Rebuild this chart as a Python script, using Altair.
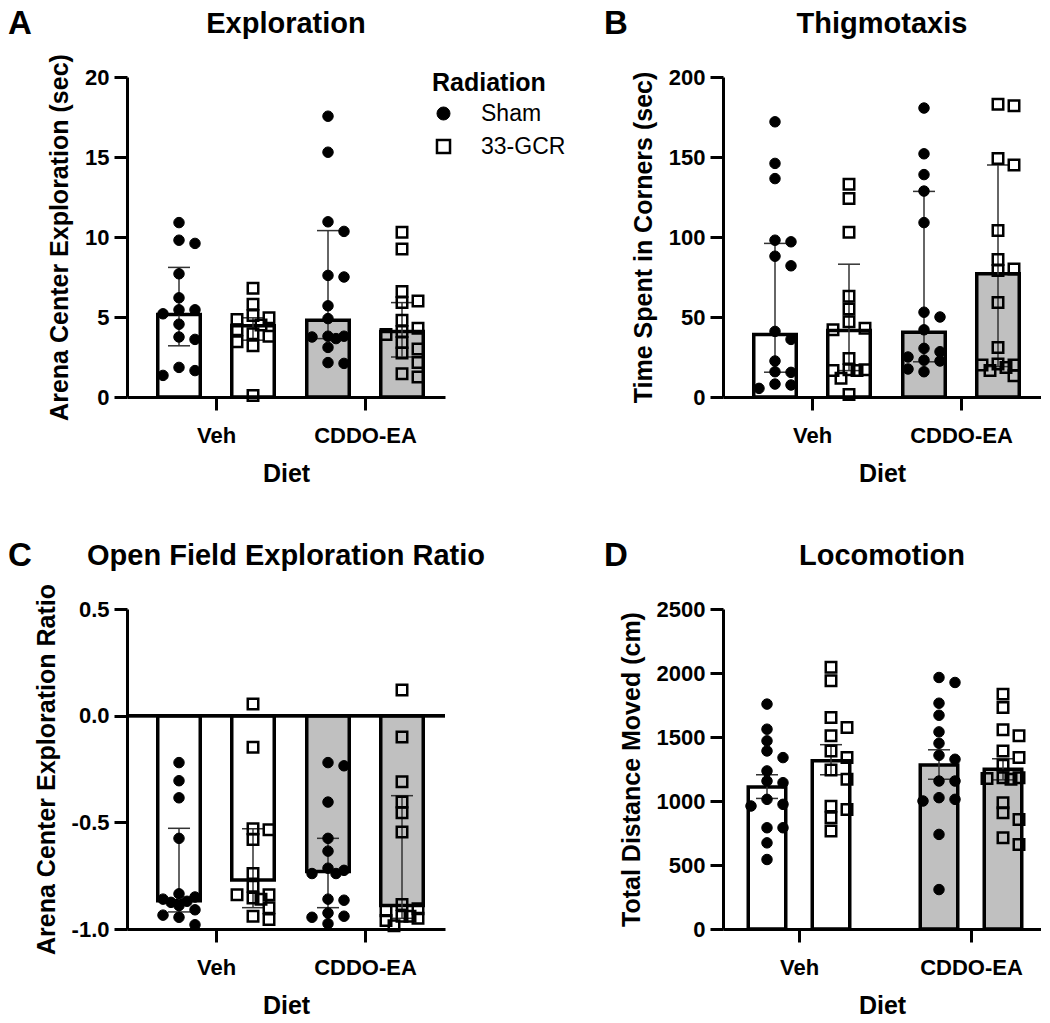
import altair as alt
import pandas as pd

DIETS = ["Veh", "CDDO-EA"]
RADS = ["Sham", "33-GCR"]
GROUPS = [("Veh", "Sham"), ("Veh", "33-GCR"), ("CDDO-EA", "Sham"), ("CDDO-EA", "33-GCR")]

# ---------- Panel A: Exploration (sec) ----------
A_VEH_SHAM = [10.9, 9.8, 9.6, 7.7, 6.2, 5.45, 5.45, 5.2, 4.55, 3.75, 3.6, 1.85, 1.65, 1.35]
A_VEH_GCR = [6.8, 5.8, 5.1, 4.95, 4.85, 4.5, 4.2, 3.95, 3.8, 3.45, 3.2, 0.1]
A_CDDO_SHAM = [17.55, 15.3, 10.95, 10.35, 7.6, 7.5, 5.7, 4.9, 3.8, 3.8, 3.75, 3.65, 3.1, 2.15, 2.1]
A_CDDO_GCR = [10.3, 9.25, 6.6, 6.0, 5.9, 4.8, 4.3, 4.1, 3.9, 3.4, 3.0, 2.75, 2.15, 1.45, 1.25]
A_BAR = [5.15, 4.45, 4.8, 4.1]
A_LO = [3.2, 3.55, 3.65, 2.5]
A_HI = [8.1, 4.95, 10.4, 5.9]

# ---------- Panel B: Thigmotaxis (sec) ----------
B_VEH_SHAM = [172, 146, 136.5, 98, 97, 88, 82, 41, 36, 22.5, 15.8, 15.4, 8.1, 7.5, 5.4]
B_VEH_GCR = [133, 124, 103, 63, 55, 47, 43, 42, 24, 17, 17, 16.5, 16.5, 11.7, 1.5]
B_CDDO_SHAM = [180.6, 152, 139, 128.7, 109, 53, 50, 42, 30.4, 28.3, 25, 23, 22.5, 17.5, 15.8]
B_CDDO_GCR = [183, 182, 149, 145, 104, 86, 80, 79, 59, 31, 20.6, 20, 20, 18.5, 16.5, 13.3]
B_BAR = [39, 41.5, 40.5, 77]
B_LO = [15.5, 16.5, 22, 19]
B_HI = [96, 83, 128.5, 145]

# ---------- Panel C: Open Field Exploration Ratio ----------
C_VEH_SHAM = [-0.22, -0.305, -0.385, -0.575, -0.835, -0.85, -0.86, -0.87, -0.875, -0.89, -0.91, -0.935, -0.945, -0.98]
C_VEH_GCR = [0.055, -0.148, -0.53, -0.535, -0.58, -0.74, -0.8, -0.84, -0.84, -0.855, -0.86, -0.9, -0.94, -0.955]
C_CDDO_SHAM = [-0.22, -0.235, -0.405, -0.575, -0.635, -0.715, -0.725, -0.74, -0.74, -0.86, -0.865, -0.925, -0.94, -0.945, -0.975]
C_CDDO_GCR = [0.12, -0.1, -0.31, -0.405, -0.455, -0.545, -0.885, -0.905, -0.915, -0.94, -0.94, -0.95, -0.96, -0.985]
C_BAR = [-0.867, -0.77, -0.73, -0.89]
C_LO = [-0.92, -0.9, -0.9, -0.95]
C_HI = [-0.528, -0.53, -0.575, -0.375]

# ---------- Panel D: Locomotion (cm) ----------
D_VEH_SHAM = [1757, 1561, 1470, 1391, 1339, 1235, 1156, 1143, 1013, 974, 961, 791, 791, 673, 543]
D_VEH_GCR = [2044, 1939, 1652, 1574, 1509, 1391, 1339, 1242, 1169, 960, 934, 869, 765]
D_CDDO_SHAM = [1965, 1926, 1764, 1670, 1540, 1451, 1357, 1326, 1156, 1156, 1026, 1013, 1000, 739, 308]
D_CDDO_GCR = [1835, 1730, 1556, 1509, 1391, 1339, 1280, 1182, 1175, 1170, 1182, 987, 908, 856, 713, 661]
D_BAR = [1110, 1315, 1282, 1248]
D_LO = [1020, 1205, 1170, 1165]
D_HI = [1205, 1440, 1400, 1330]

TITLES = ["Exploration", "Thigmotaxis", "Open Field Exploration Ratio", "Locomotion"]
LETTERS = ["A", "B", "C", "D"]
YTITLES = ["Arena Center Exploration (sec)", "Time Spent in Corners (sec)",
           "Arena Center Exploration Ratio", "Total Distance Moved (cm)"]

FONT = "Liberation Sans"
W, H = 318, 320


def swarm(values, px_per_unit, diam=10.0, col=16.0):
    """Deterministic beeswarm offsets (pixels): points at similar heights sit side by side,
    kept inside the bar width."""
    cands = [0.0, col, -col, col / 2, -col / 2]
    placed = []
    out = [0.0] * len(values)
    order = sorted(range(len(values)), key=lambda i: -values[i])
    for i in order:
        y = values[i] * px_per_unit
        best, best_d = 0.0, -1.0
        for x in cands:
            d = min([((x - px) ** 2 + (y - py) ** 2) ** 0.5 for py, px in placed] or [1e9])
            if d >= diam:
                best = x
                break
            if d > best_d:
                best, best_d = x, d
        placed.append((y, best))
        out[i] = best
    return out


def panel(idx, series, bar, lo, hi, ydom, yticks, yfmt,
          step, center0, roff_px, bar_px, legend=False, zero_rule=False):
    ppu = H / (ydom[1] - ydom[0])
    rows = []
    for (diet, rad), vals in zip(GROUPS, series):
        jit = swarm(vals, ppu)
        for v, j in zip(vals, jit):
            rows.append({"Diet": diet, "Radiation": rad, "value": v, "jit": j / step})
    pts = pd.DataFrame(rows)
    bars = pd.DataFrame({
        "Diet": [g[0] for g in GROUPS],
        "Radiation": [g[1] for g in GROUPS],
        "bar": bar, "lo": lo, "hi": hi,
    })
    roff = roff_px / step
    hw = (bar_px - 3.5) / 2 / step
    cap = 11 / step
    xlo = -center0 / step
    xhi = xlo + W / step
    slot = f"(datum.Diet == '{DIETS[0]}' ? 0 : 1) + (datum.Radiation == '{RADS[0]}' ? -{roff} : {roff})"

    xscale = alt.Scale(domain=[xlo, xhi], nice=False, zero=False)
    xaxis = alt.Axis(values=[0, 1], title="Diet",
                     labelExpr=f"datum.value == 0 ? '{DIETS[0]}' : '{DIETS[1]}'")
    yscale = alt.Scale(domain=ydom, nice=False, zero=False)
    yaxis = alt.Axis(values=yticks, title=YTITLES[idx], format=yfmt,
                     labelExpr="replace(datum.label, '\u2212', '-')")

    def X(f):
        return alt.X(f, type="quantitative", scale=xscale, axis=xaxis)

    def Y(f):
        return alt.Y(f, type="quantitative", scale=yscale, axis=yaxis)

    base_b = alt.Chart(bars).transform_calculate(xc=slot).transform_calculate(
        xl=f"datum.xc - {hw}", xr=f"datum.xc + {hw}",
        cl=f"datum.xc - {cap}", cr=f"datum.xc + {cap}")

    bar_layer = base_b.mark_bar(stroke="black", strokeWidth=3.5).encode(
        x=X("xl"), x2=alt.X2("xr"), y=Y("bar"), y2=alt.datum(0),
        color=alt.Color("Diet:N", scale=alt.Scale(domain=DIETS, range=["white", "#c0c0c0"]), legend=None),
    )
    err = base_b.mark_rule(color="#333333", strokeWidth=1.5).encode(
        x=X("xc"), y=Y("lo"), y2=alt.Y2("hi"))
    caps = base_b.transform_fold(["lo", "hi"], as_=["k", "v"]).mark_rule(
        color="#333333", strokeWidth=1.5).encode(x=X("cl"), x2=alt.X2("cr"), y=Y("v"))

    if legend:
        leg = alt.Legend(title="Radiation", orient="none", legendX=305, legendY=-6,
                         titleFont=FONT, titleFontSize=25, titleFontWeight="bold", titleColor="black",
                         labelFont=FONT, labelFontSize=23, labelColor="black", labelOffset=26,
                         rowPadding=8, titlePadding=6, padding=0, symbolSize=170)
    else:
        leg = None
    pts_layer = alt.Chart(pts).transform_calculate(
        xp=f"{slot} + datum.jit").mark_point(opacity=1, stroke="black", size=110).encode(
        x=X("xp"), y=Y("value"),
        shape=alt.Shape("Radiation:N", scale=alt.Scale(domain=RADS, range=["circle", "square"]), legend=leg),
        fill=alt.Fill("Radiation:N", scale=alt.Scale(domain=RADS, range=["black", "transparent"]), legend=leg),
        strokeWidth=alt.StrokeWidth("Radiation:N", scale=alt.Scale(domain=RADS, range=[1, 2.5]), legend=leg),
    )
    head = pd.DataFrame({"letter": [LETTERS[idx]], "title": [TITLES[idx]]})
    letter_layer = alt.Chart(head).mark_text(
        font=FONT, fontWeight="bold", fontSize=33, align="left", baseline="alphabetic", color="black"
    ).encode(text="letter:N", x=alt.value(-119), y=alt.value(-43))
    title_layer = alt.Chart(head).mark_text(
        font=FONT, fontWeight="bold", fontSize=29, align="center", baseline="alphabetic", color="black"
    ).encode(text="title:N", x=alt.value(W / 2), y=alt.value(-44))

    layers = [bar_layer]
    if zero_rule:
        layers.append(alt.Chart(bars).mark_rule(color="black", strokeWidth=3).encode(y=alt.datum(0)))
    layers += [err, caps, pts_layer, letter_layer, title_layer]
    return alt.layer(*layers).properties(width=W, height=H).resolve_scale(color="independent")


pA = panel(0, [A_VEH_SHAM, A_VEH_GCR, A_CDDO_SHAM, A_CDDO_GCR], A_BAR, A_LO, A_HI,
           [0, 20], [0, 5, 10, 15, 20], "d", 149, 89, 37, 46, legend=True)
pB = panel(1, [B_VEH_SHAM, B_VEH_GCR, B_CDDO_SHAM, B_CDDO_GCR], B_BAR, B_LO, B_HI,
           [0, 200], [0, 50, 100, 150, 200], "d", 149, 89, 37, 46)
pC = panel(2, [C_VEH_SHAM, C_VEH_GCR, C_CDDO_SHAM, C_CDDO_GCR], C_BAR, C_LO, C_HI,
           [-1, 0.5], [-1, -0.5, 0, 0.5], ".1f", 149, 89, 37, 46, zero_rule=True)
pD = panel(3, [D_VEH_SHAM, D_VEH_GCR, D_CDDO_SHAM, D_CDDO_GCR], D_BAR, D_LO, D_HI,
           [0, 2500], [0, 500, 1000, 1500, 2000, 2500], "d", 172, 76, 32, 41)

chart = alt.concat(pA, pB, pC, pD, columns=2, spacing={"row": 212, "column": 278},
                   bounds="flush").resolve_scale(
    shape="independent", fill="independent", strokeWidth="independent", color="independent",
    x="independent", y="independent",
).properties(padding=0).configure_view(stroke=None).configure_axis(
    domainColor="black", domainWidth=3, tickColor="black", tickWidth=3, tickSize=13,
    labelFont=FONT, labelFontWeight="bold", labelFontSize=22, labelColor="black",
    titleFont=FONT, titleFontWeight="bold", titleFontSize=25, titleColor="black", grid=False,
).configure_axisX(labelPadding=15, titlePadding=15, labelAngle=0).configure_axisY(
    labelPadding=5, titlePadding=12)

chart.save("out.html", embed_options={"renderer": "svg", "actions": False})
